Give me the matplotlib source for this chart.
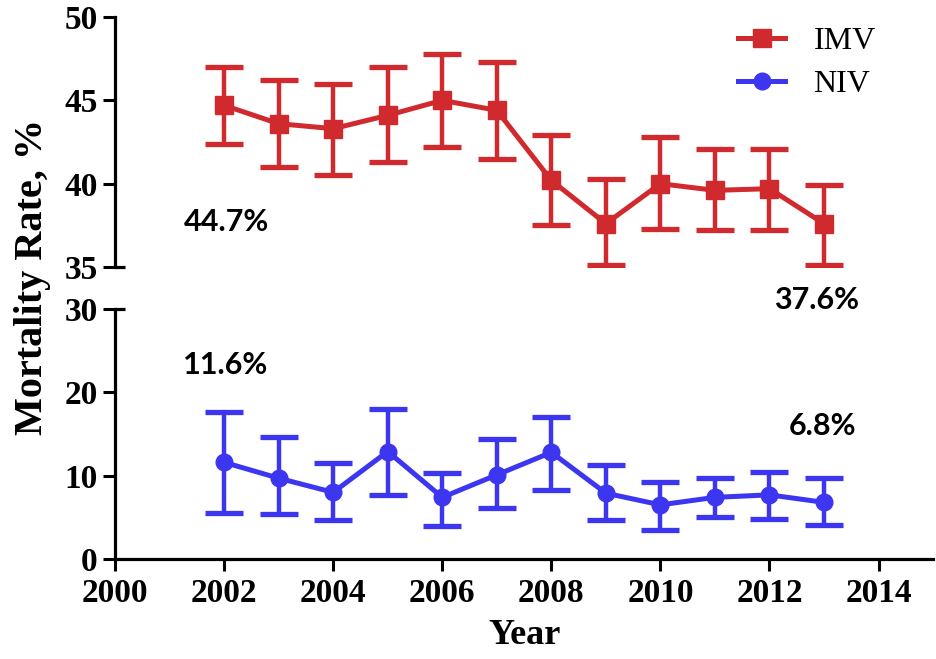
import numpy as np
import matplotlib
matplotlib.use("Agg")
import matplotlib.pyplot as plt
from matplotlib.lines import Line2D

years = np.arange(2002, 2014)

# IMV mortality (%) with error bar ends
imv = [44.7, 43.6, 43.3, 44.1, 45.0, 44.4, 40.2, 37.6, 40.0, 39.6, 39.7, 37.6]
imv_hi = [47.0, 46.2, 46.0, 47.0, 47.8, 47.3, 42.9, 40.3, 42.8, 42.1, 42.1, 39.9]
imv_lo = [42.4, 41.0, 40.5, 41.3, 42.2, 41.5, 37.5, 35.1, 37.3, 37.2, 37.2, 35.1]

# NIV mortality (%)
niv = [11.6, 9.7, 8.0, 12.9, 7.4, 10.1, 12.8, 7.9, 6.5, 7.4, 7.7, 6.8]
niv_hi = [17.7, 14.6, 11.5, 18.0, 10.3, 14.4, 17.0, 11.3, 9.2, 9.7, 10.5, 9.7]
niv_lo = [5.5, 5.4, 4.7, 7.7, 4.0, 6.1, 8.3, 4.7, 3.5, 5.0, 4.8, 4.1]

top_ticks = [35, 40, 45, 50]
bot_ticks = [0, 10, 20, 30]
x_ticks = [2000, 2002, 2004, 2006, 2008, 2010, 2012, 2014]

red = '#d12a2e'
blue = '#3d36f0'
serif = 'Liberation Serif'

fig = plt.figure(figsize=(9.36, 6.59), dpi=100)
ax_top = fig.add_axes([0.1229, 0.5948, 0.874, 0.3794])
ax_bot = fig.add_axes([0.1229, 0.1517, 0.874, 0.3794])


def err(v, lo, hi):
    v = np.array(v)
    return [v - np.array(lo), np.array(hi) - v]


style = dict(lw=3.6, elinewidth=3.2, capsize=14, capthick=3.8)
ax_top.errorbar(years, imv, yerr=err(imv, imv_lo, imv_hi), fmt='-s', color=red,
                ms=13, **style)
ax_bot.errorbar(years, niv, yerr=err(niv, niv_lo, niv_hi), fmt='-o', color=blue,
                ms=12, **style)

for ax in (ax_top, ax_bot):
    ax.set_xlim(2000, 2015)
    for s in ('top', 'right'):
        ax.spines[s].set_visible(False)
    ax.spines['left'].set_linewidth(2.3)
    ax.spines['bottom'].set_linewidth(2.3)
    ax.tick_params(axis='both', direction='out', length=8.5, width=2.2,
                   labelsize=24)
    ax.tick_params(axis='y', pad=4)
    ax.tick_params(axis='x', pad=5)

ax_top.set_ylim(35, 50)
ax_top.set_yticks(top_ticks)
ax_top.spines['bottom'].set_visible(False)
ax_top.set_xticks([])

ax_bot.set_ylim(0, 30)
ax_bot.set_yticks(bot_ticks)
ax_bot.set_xticks(x_ticks)

for ax in (ax_top, ax_bot):
    for lab in ax.get_xticklabels() + ax.get_yticklabels():
        lab.set_fontfamily(serif)
        lab.set_fontweight('bold')

# little caps at the axis break
ax_top.plot([0, 0.012], [0, 0], transform=ax_top.transAxes, color='black',
            lw=2.3, clip_on=False, solid_capstyle='butt')
ax_bot.plot([0, 0.012], [1, 1], transform=ax_bot.transAxes, color='black',
            lw=2.3, clip_on=False, solid_capstyle='butt')

handles = [Line2D([], [], color=red, lw=3.6, marker='s', ms=13),
           Line2D([], [], color=blue, lw=3.6, marker='o', ms=12)]
ax_top.legend(handles, ['IMV', 'NIV'], loc='upper right', bbox_to_anchor=(0.965, 1.075),
              frameon=False, handlelength=1.45, handletextpad=0.9, labelspacing=0.42,
              prop={'family': serif, 'size': 23})

fig.text(0.035, 1 - 277 / 659, 'Mortality Rate, %', rotation=90, ha='center',
         va='center', family=serif, weight='bold', size=29)
fig.text(525 / 936, 1 - 636 / 659, 'Year', ha='center', va='center', family=serif,
         weight='bold', size=26)

ann = dict(family='Lato', weight='bold', size=22, ha='center', va='center')
fig.text(226 / 936, 1 - 222 / 659, '44.7%', **ann)
fig.text(226 / 936, 1 - 365 / 659, '11.6%', **ann)
fig.text(817 / 936, 1 - 300 / 659, '37.6%', **ann)
fig.text(822 / 936, 1 - 426 / 659, '6.8%', **ann)

fig.savefig('out.png', dpi=100)
